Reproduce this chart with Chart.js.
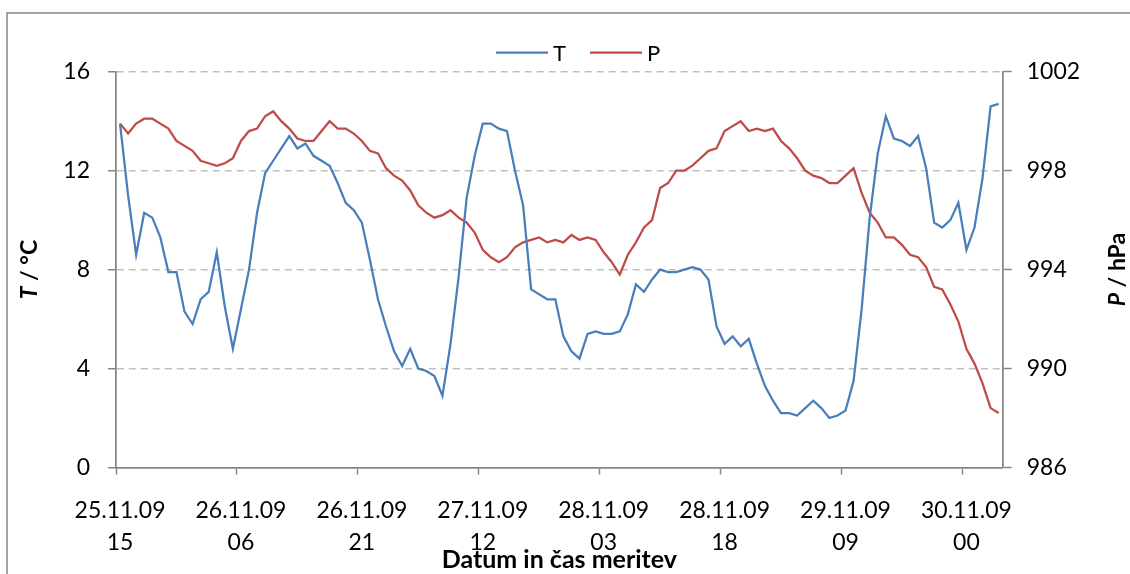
<!DOCTYPE html>
<html>
<head>
<meta charset="utf-8">
<script src="https://cdn.jsdelivr.net/npm/chart.js@4.4.1/dist/chart.umd.min.js"></script>
<style>
  html, body { margin: 0; padding: 0; background: #ffffff; }
  #wrap { width: 1130px; height: 574px; position: relative; }
</style>
</head>
<body>
<div id="wrap"><canvas id="chart" width="1130" height="574"></canvas></div>
<script>
// Hourly readings from 25.11.09 15:00 to 30.11.09 04:00
const firstDay = 25;
const firstHour = 15;
const readingCount = 110;
const labelEvery = 15;

// Air temperature, °C
const temperature = [
  13.9, 11.0, 8.6, 10.3, 10.1, 9.3, 7.9, 7.9, 6.3, 5.8,
  6.8, 7.1, 8.7, 6.5, 4.8, 6.4, 8.0, 10.3, 11.9, 12.4,
  12.9, 13.4, 12.9, 13.1, 12.6, 12.4, 12.2, 11.5, 10.7, 10.4,
  9.9, 8.4, 6.8, 5.7, 4.7, 4.1, 4.8, 4.0, 3.9, 3.7,
  2.9, 5.0, 7.7, 10.9, 12.6, 13.9, 13.9, 13.7, 13.6, 12.0,
  10.6, 7.2, 7.0, 6.8, 6.8, 5.3, 4.7, 4.4, 5.4, 5.5,
  5.4, 5.4, 5.5, 6.2, 7.4, 7.1, 7.6, 8.0, 7.9, 7.9,
  8.0, 8.1, 8.0, 7.6, 5.7, 5.0, 5.3, 4.9, 5.2, 4.2,
  3.3, 2.7, 2.2, 2.2, 2.1, 2.4, 2.7, 2.4, 2.0, 2.1,
  2.3, 3.5, 6.4, 10.1, 12.7, 14.2, 13.3, 13.2, 13.0, 13.4,
  12.1, 9.9, 9.7, 10.0, 10.7, 8.8, 9.7, 11.7, 14.6, 14.7
];

// Air pressure, hPa
const pressure = [
  999.9, 999.5, 999.9, 1000.1, 1000.1, 999.9, 999.7, 999.2, 999.0, 998.8,
  998.4, 998.3, 998.2, 998.3, 998.5, 999.2, 999.6, 999.7, 1000.2, 1000.4,
  1000.0, 999.7, 999.3, 999.2, 999.2, 999.6, 1000.0, 999.7, 999.7, 999.5,
  999.2, 998.8, 998.7, 998.1, 997.8, 997.6, 997.2, 996.6, 996.3, 996.1,
  996.2, 996.4, 996.1, 995.9, 995.5, 994.8, 994.5, 994.3, 994.5, 994.9,
  995.1, 995.2, 995.3, 995.1, 995.2, 995.1, 995.4, 995.2, 995.3, 995.2,
  994.7, 994.3, 993.8, 994.6, 995.1, 995.7, 996.0, 997.3, 997.5, 998.0,
  998.0, 998.2, 998.5, 998.8, 998.9, 999.6, 999.8, 1000.0, 999.6, 999.7,
  999.6, 999.7, 999.2, 998.9, 998.5, 998.0, 997.8, 997.7, 997.5, 997.5,
  997.8, 998.1, 997.1, 996.3, 995.9, 995.3, 995.3, 995.0, 994.6, 994.5,
  994.1, 993.3, 993.2, 992.6, 991.9, 990.8, 990.2, 989.4, 988.4, 988.2
];

// Axis ranges
const tempTicks = [0, 4, 8, 12, 16];
const pressTicks = [986, 990, 994, 998, 1002];

// Two-line category labels: date and hour of each reading
const pad2 = n => String(n).padStart(2, '0');
const readingLabels = [];
for (let i = 0; i < readingCount; i++) {
  const h = firstHour + i;
  const day = firstDay + Math.floor(h / 24);
  readingLabels.push([pad2(day) + '.11.09', pad2(h % 24)]);
}

const FONT = 'Lato';
const AXIS_GREY = '#868686';
const GRID_GREY = '#c0c0c0';
const BLUE = '#4a7ebb';
const RED = '#be4b48';

// Frame, legend and the two vertical axis titles
const decorations = {
  id: 'decorations',
  afterDraw(chart) {
    const ctx = chart.ctx;
    const area = chart.chartArea;
    ctx.save();

    // outer frame
    ctx.strokeStyle = AXIS_GREY;
    ctx.lineWidth = 1.5;
    ctx.strokeRect(7, 13, 1300, 800);

    // legend
    const legendY = 52.7;
    const items = [
      { x: 496, ds: chart.data.datasets[0] },
      { x: 590, ds: chart.data.datasets[1] }
    ];
    ctx.font = '22px ' + FONT;
    ctx.textBaseline = 'alphabetic';
    ctx.textAlign = 'left';
    items.forEach(it => {
      ctx.strokeStyle = it.ds.borderColor;
      ctx.lineWidth = 2.25;
      ctx.beginPath();
      ctx.moveTo(it.x, legendY);
      ctx.lineTo(it.x + 52, legendY);
      ctx.stroke();
      ctx.fillStyle = '#000000';
      ctx.fillText(it.ds.label, it.x + 57, 60.7);
    });

    // rotated axis titles, read from bottom to top
    const drawTitle = (parts, baselineX) => {
      const cy = (area.top + area.bottom) / 2;
      let total = 0;
      parts.forEach(p => {
        ctx.font = (p.italic ? 'italic ' : '') + 'bold 23px ' + FONT;
        p.w = ctx.measureText(p.text).width;
        total += p.w;
      });
      ctx.save();
      ctx.translate(baselineX, cy);
      ctx.rotate(-Math.PI / 2);
      ctx.fillStyle = '#000000';
      ctx.textBaseline = 'alphabetic';
      ctx.textAlign = 'left';
      let x = -total / 2;
      parts.forEach(p => {
        ctx.font = (p.italic ? 'italic ' : '') + 'bold 23px ' + FONT;
        ctx.fillText(p.text, x, 0);
        x += p.w;
      });
      ctx.restore();
    };
    drawTitle([{ text: 'T', italic: true }, { text: ' / °C' }], 37);
    drawTitle([{ text: 'P', italic: true }, { text: ' / hPa' }], 1125);

    ctx.restore();
  }
};

Chart.defaults.font.family = FONT;
Chart.defaults.color = '#000000';

new Chart(document.getElementById('chart'), {
  type: 'line',
  data: {
    labels: readingLabels,
    datasets: [
      {
        label: 'T',
        data: temperature,
        yAxisID: 'yT',
        borderColor: BLUE,
        backgroundColor: BLUE,
        borderWidth: 2.25,
        pointRadius: 0,
        tension: 0,
        fill: false
      },
      {
        label: 'P',
        data: pressure,
        yAxisID: 'yP',
        borderColor: RED,
        backgroundColor: RED,
        borderWidth: 2.25,
        pointRadius: 0,
        tension: 0,
        fill: false
      }
    ]
  },
  options: {
    responsive: false,
    animation: false,
    devicePixelRatio: 1,
    layout: { padding: { top: 71.7, left: 0, right: 0, bottom: 0 } },
    plugins: {
      legend: { display: false },
      tooltip: { enabled: false },
      title: { display: false }
    },
    scales: {
      x: {
        type: 'category',
        offset: true,
        afterFit: s => { s.height = 106.5; },
        grid: {
          drawOnChartArea: false,
          drawTicks: true,
          offset: true,
          tickLength: 7,
          tickWidth: 1.5,
          tickColor: c => (c.index % labelEvery === 0 ? AXIS_GREY : 'rgba(0,0,0,0)')
        },
        border: { color: AXIS_GREY, width: 1.75 },
        ticks: {
          autoSkip: false,
          maxRotation: 0,
          minRotation: 0,
          padding: 20.5,
          font: { size: 23, lineHeight: 1.39 },
          color: '#000000',
          callback: function (v, i) {
            return i % labelEvery === 0 ? this.getLabelForValue(v) : '';
          }
        },
        title: {
          display: true,
          text: 'Datum in čas meritev',
          font: { size: 25, weight: 'bold', lineHeight: 1.0 },
          color: '#000000',
          padding: { top: 0, bottom: 1.5 }
        }
      },
      yT: {
        position: 'left',
        min: tempTicks[0],
        max: tempTicks[tempTicks.length - 1],
        afterFit: s => { s.width = 116; },
        afterBuildTicks: s => { s.ticks = tempTicks.map(v => ({ value: v })); },
        grid: {
          color: c => (c.tick && c.tick.value === tempTicks[0] ? 'rgba(0,0,0,0)' : GRID_GREY),
          lineWidth: 1.5,
          tickLength: 8,
          tickWidth: 1.5,
          tickColor: AXIS_GREY
        },
        border: { color: AXIS_GREY, width: 1.75, dash: [7, 5] },
        ticks: {
          padding: 18,
          font: { size: 23 },
          color: '#000000',
          callback: v => String(v)
        }
      },
      yP: {
        position: 'right',
        min: pressTicks[0],
        max: pressTicks[pressTicks.length - 1],
        afterFit: s => { s.width = 127.3; },
        afterBuildTicks: s => { s.ticks = pressTicks.map(v => ({ value: v })); },
        grid: {
          drawOnChartArea: false,
          tickLength: 9,
          tickWidth: 1.5,
          tickColor: AXIS_GREY
        },
        border: { color: AXIS_GREY, width: 1.75 },
        ticks: {
          padding: 15,
          font: { size: 23 },
          color: '#000000',
          callback: v => String(v)
        }
      }
    }
  },
  plugins: [decorations]
});
</script>
</body>
</html>
